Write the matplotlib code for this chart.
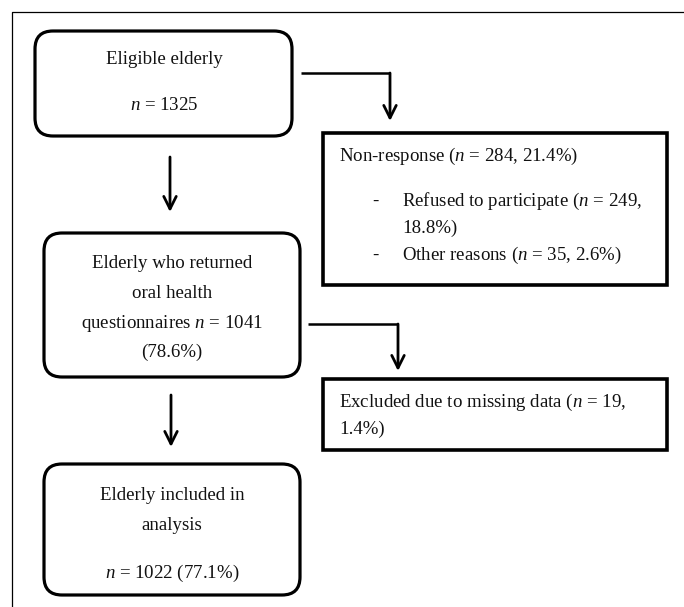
import matplotlib
matplotlib.use("Agg")
import matplotlib.pyplot as plt
from matplotlib.patches import FancyBboxPatch, Rectangle

# 字体设置 (正文衬线体, n 用斜体)
plt.rcParams['font.family'] = ['Liberation Serif', 'DejaVu Serif']
plt.rcParams['mathtext.fontset'] = 'custom'
plt.rcParams['mathtext.rm'] = 'Liberation Serif'
plt.rcParams['mathtext.it'] = 'Liberation Serif:italic'

# 流程图数据
eligible_n = 1325
nonresp_n, nonresp_pct = 284, 21.4
refused_n, refused_pct = 249, 18.8
other_n, other_pct = 35, 2.6
returned_n, returned_pct = 1041, 78.6
missing_n, missing_pct = 19, 1.4
included_n, included_pct = 1022, 77.1

FS = 13.6

fig = plt.figure(figsize=(6.84, 6.07), dpi=100)
ax = fig.add_axes([0, 0, 1, 1])
ax.set_xlim(0, 684)
ax.set_ylim(607, 0)
ax.axis('off')

# 外框
ax.plot([12, 12, 684], [607, 12, 12], color='black', lw=0.9)


def round_box(x0, y0, x1, y1):
    p = FancyBboxPatch((x0, y0), x1 - x0, y1 - y0,
                       boxstyle="round,pad=0,rounding_size=18",
                       fc='white', ec='black', lw=2.3)
    ax.add_patch(p)


def rect_box(x0, y0, x1, y1):
    ax.add_patch(Rectangle((x0, y0), x1 - x0, y1 - y0,
                           fc='white', ec='black', lw=2.6))


def down_arrow(x, y0, y1):
    ax.annotate('', xy=(x, y1), xytext=(x, y0),
                arrowprops=dict(arrowstyle='->,head_length=0.9,head_width=0.45',
                                lw=2.0, color='black', shrinkA=0, shrinkB=0))


def side_arrow(x0, y, x1, y1):
    ax.plot([x0, x1], [y, y], color='black', lw=1.8, solid_capstyle='butt')
    down_arrow(x1, y, y1)


def txt(x, y, s, ha='center'):
    ax.text(x, y, s, ha=ha, va='center', fontsize=FS, color='#111111')


# 第一框
round_box(35, 31, 292, 136)
txt(164, 60, 'Eligible elderly')
txt(164, 106, '$n$ = %d' % eligible_n)

side_arrow(301, 73, 390, 121)
down_arrow(170, 157, 212)

# 未应答
rect_box(323, 133, 667, 285)
txt(339, 156, 'Non-response ($n$ = %d, %.1f%%)' % (nonresp_n, nonresp_pct), ha='left')
txt(372, 201, '-', ha='left')
txt(402, 201, 'Refused to participate ($n$ = %d,' % refused_n, ha='left')
txt(402, 228, '%.1f%%)' % refused_pct, ha='left')
txt(372, 255, '-', ha='left')
txt(402, 255, 'Other reasons ($n$ = %d, %.1f%%)' % (other_n, other_pct), ha='left')

# 第二框
round_box(44, 233, 300, 377)
txt(172, 264, 'Elderly who returned')
txt(172, 293, 'oral health')
txt(172, 323, 'questionnaires $n$ = %d' % returned_n)
txt(172, 352, '(%.1f%%)' % returned_pct)

side_arrow(308, 324, 398, 371)
down_arrow(171, 395, 447)

# 缺失数据
rect_box(323, 379, 667, 450)
txt(339, 402, 'Excluded due to missing data ($n$ = %d,' % missing_n, ha='left')
txt(339, 429, '%.1f%%)' % missing_pct, ha='left')

# 第三框
round_box(44, 464, 300, 595)
txt(172, 495, 'Elderly included in')
txt(172, 525, 'analysis')
txt(172, 573, '$n$ = %d (%.1f%%)' % (included_n, included_pct))

fig.savefig('out.png', dpi=100)
